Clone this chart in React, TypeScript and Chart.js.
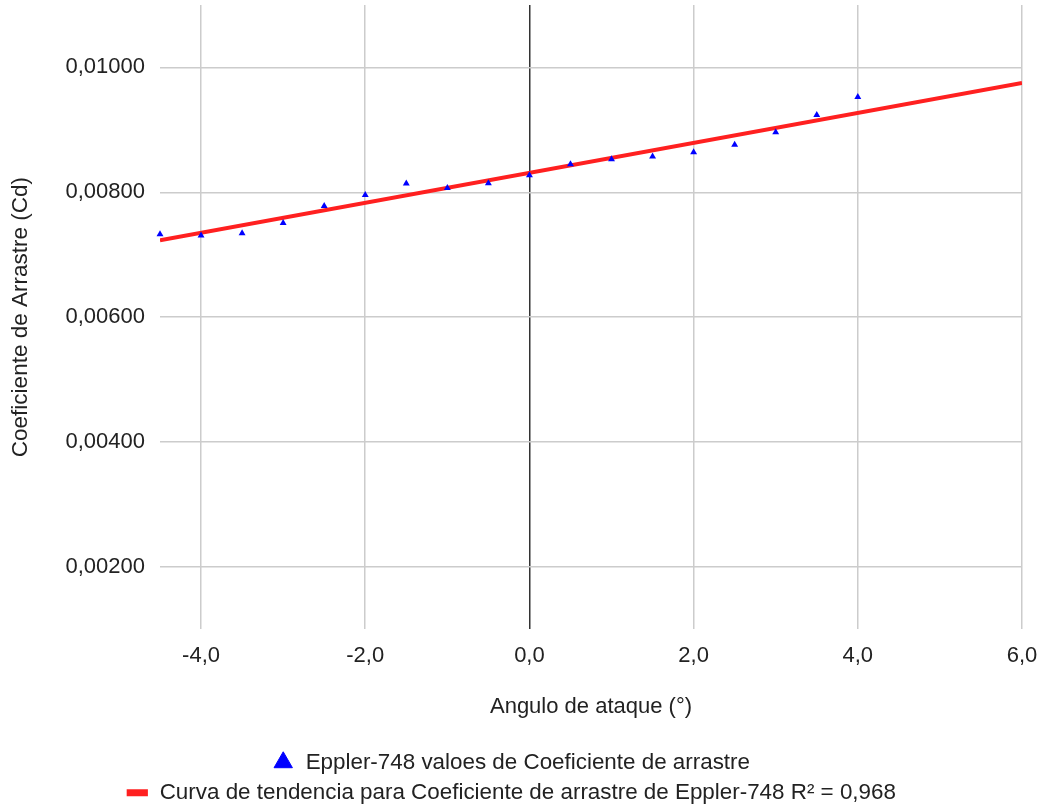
import React, { useEffect, useRef } from 'react';
import { Chart, registerables } from 'chart.js';

Chart.register(...registerables);

// ---- Data ----
const angles = [-4.5, -4.0, -3.5, -3.0, -2.5, -2.0, -1.5, -1.0, -0.5, 0.0, 0.5, 1.0, 1.5, 2.0, 2.5, 3.0, 3.5, 4.0];
const cdValues = [
  0.007328, 0.007307, 0.007344, 0.007509, 0.007781, 0.007957, 0.008139, 0.008069, 0.008144,
  0.008272, 0.008448, 0.008528, 0.008571, 0.008640, 0.008763, 0.008960, 0.009237, 0.009525,
];
const xTickValues = [-4, -2, 0, 2, 4, 6];
const yTickValues = [0.002, 0.004, 0.006, 0.008, 0.01];
const xRange = [-4.5, 6];
const yRange = [0.001, 0.011];
const seriesLabel = 'Eppler-748 valoes de Coeficiente de arrastre';
const trendLabel = 'Curva de tendencia para Coeficiente de arrastre de Eppler-748 R² = 0,968';
const xTitle = 'Angulo de ataque (°)';
const yTitle = 'Coeficiente de Arrastre (Cd)';

// least-squares linear trendline through the data
function linearFit(xs: number[], ys: number[]) {
  const n = xs.length;
  const mx = xs.reduce((a, b) => a + b, 0) / n;
  const my = ys.reduce((a, b) => a + b, 0) / n;
  let sxy = 0;
  let sxx = 0;
  for (let i = 0; i < n; i++) {
    sxy += (xs[i] - mx) * (ys[i] - my);
    sxx += (xs[i] - mx) * (xs[i] - mx);
  }
  const slope = sxy / sxx;
  return { slope, intercept: my - slope * mx };
}

const FONT = "'Liberation Sans', Arial, sans-serif";
const TEXT = '#222222';
const BLUE = '#0000ff';
const RED = '#ff2020';

export default function App() {
  const canvasRef = useRef<HTMLCanvasElement | null>(null);

  useEffect(() => {
    if (!canvasRef.current) return;
    const fit = linearFit(angles, cdValues);
    const trend = xRange.map((x) => ({ x, y: fit.intercept + fit.slope * x }));
    const points = angles.map((x, i) => ({ x, y: cdValues[i] }));

    Chart.defaults.font.family = FONT;

    const chart = new Chart(canvasRef.current, {
      type: 'scatter',
      data: {
        datasets: [
          {
            label: seriesLabel,
            data: points,
            pointStyle: 'triangle',
            pointRadius: 4,
            pointBackgroundColor: BLUE,
            pointBorderColor: BLUE,
            pointBorderWidth: 0,
            showLine: false,
            clip: false,
          } as any,
          {
            label: trendLabel,
            data: trend,
            showLine: true,
            borderColor: RED,
            backgroundColor: RED,
            borderWidth: 4,
            pointRadius: 0,
          },
        ],
      },
      options: {
        animation: false,
        responsive: true,
        maintainAspectRatio: false,
        layout: { padding: { top: 5, right: 19, bottom: -7, left: 0 } },
        plugins: {
          tooltip: { enabled: false },
          legend: {
            position: 'bottom',
            align: 'center',
            labels: {
              usePointStyle: true,
              boxHeight: 15,
              padding: 8,
              color: TEXT,
              font: { size: 22.4, family: FONT },
              generateLabels: () => [
                {
                  text: seriesLabel,
                  fillStyle: BLUE,
                  strokeStyle: BLUE,
                  lineWidth: 1,
                  pointStyle: 'triangle',
                  datasetIndex: 0,
                  hidden: false,
                  fontColor: TEXT,
                } as any,
                {
                  text: trendLabel,
                  fillStyle: RED,
                  strokeStyle: RED,
                  lineWidth: 7,
                  pointStyle: 'line',
                  datasetIndex: 1,
                  hidden: false,
                  fontColor: TEXT,
                } as any,
              ],
            },
          },
        },
        scales: {
          x: {
            type: 'linear',
            min: xRange[0],
            max: xRange[1],
            afterBuildTicks: (scale: any) => {
              scale.ticks = xTickValues.map((v) => ({ value: v }));
            },
            afterFit: (scale: any) => {
              scale.height = 114;
              scale.paddingLeft = 0;
              scale.paddingRight = 0;
            },
            border: { display: false },
            grid: {
              drawTicks: false,
              color: (ctx: any) => (ctx.tick && ctx.tick.value === 0 ? '#333333' : '#cccccc'),
              lineWidth: 1.5,
            },
            ticks: {
              padding: 14,
              color: TEXT,
              font: { size: 22, family: FONT },
              maxRotation: 0,
              callback: (v: any) => Number(v).toFixed(1).replace('.', ','),
            },
            title: {
              display: true,
              text: xTitle,
              color: TEXT,
              font: { size: 22, family: FONT },
              padding: { top: 0, bottom: 23 },
            },
          },
          y: {
            type: 'linear',
            min: yRange[0],
            max: yRange[1],
            afterBuildTicks: (scale: any) => {
              scale.ticks = yTickValues.map((v) => ({ value: v }));
            },
            afterFit: (scale: any) => {
              scale.width = 160;
              scale.paddingTop = 0;
              scale.paddingBottom = 0;
            },
            border: { display: false },
            grid: {
              drawTicks: false,
              color: '#cccccc',
              lineWidth: 1.5,
            },
            ticks: {
              padding: 15,
              color: TEXT,
              font: { size: 22, family: FONT },
              callback: (v: any) => Number(v).toFixed(5).replace('.', ','),
            },
            title: {
              display: true,
              text: yTitle,
              color: TEXT,
              font: { size: 22.5, family: FONT },
              padding: { top: 7, bottom: 0 },
            },
          },
        },
      },
    });
    return () => chart.destroy();
  }, []);

  return (
    <div style={{ position: 'absolute', left: 0, top: 0, width: 1041, height: 807, background: '#ffffff' }}>
      <canvas ref={canvasRef} />
    </div>
  );
}
